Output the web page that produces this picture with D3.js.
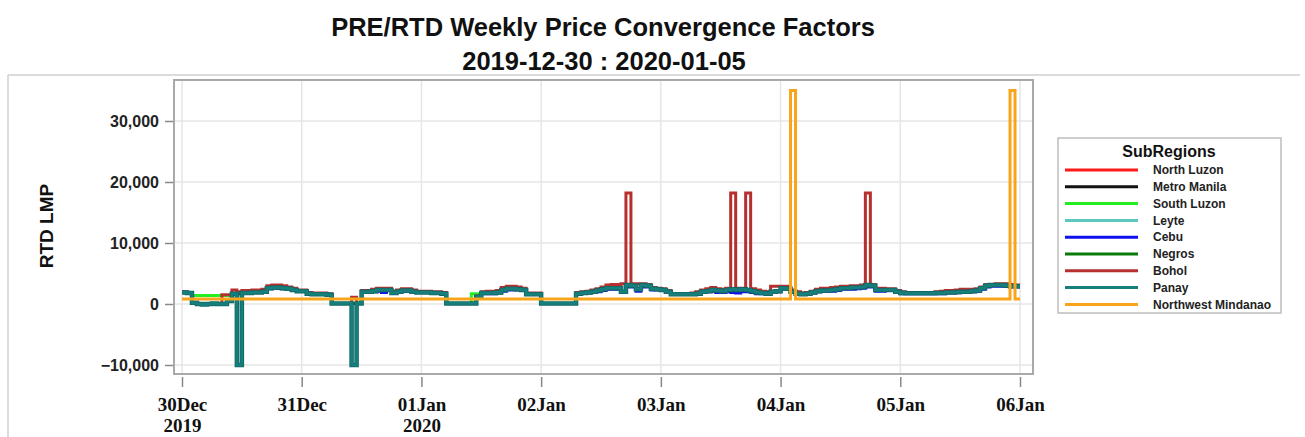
<!DOCTYPE html>
<html>
<head>
<meta charset="utf-8">
<script src="https://cdn.jsdelivr.net/npm/d3@7"></script>
<style>
  body { margin: 0; background: #fff; }
  svg { display: block; }
</style>
</head>
<body>
<svg width="1305" height="437"></svg>
<script>
// hourly RTD LMP values, 30Dec 00:00 .. 05Jan 23:00 (one row per day)
var panay = [
  1900,1800,200,0,-100,0,100,0,0,500,1700,-10000,1800,1800,1900,1900,2000,2600,2700,2700,2600,2500,2300,2100,
  2100,1700,1600,1600,1600,1500,100,100,100,100,-10000,100,2000,2000,2100,2300,2300,2300,1800,2000,2200,2200,2000,1900,
  1900,1900,1800,1800,1700,100,100,100,100,100,100,1200,1800,1800,1800,1900,2300,2500,2500,2400,2300,1600,1600,1600,
  100,100,100,100,100,100,100,1700,1800,1900,2000,2200,2400,2600,2600,2600,2000,3100,3000,2400,3100,3000,2500,2400,
  2300,2000,1600,1600,1600,1600,1600,1700,2000,2100,2300,2200,2100,2300,2400,2300,2400,2300,2100,1900,1800,1700,2000,2100,
  2600,2500,2000,1700,1600,1700,1900,2100,2200,2200,2300,2400,2600,2600,2700,2700,2800,3100,3000,2300,2300,2300,2300,2000,
  1800,1750,1750,1750,1750,1750,1750,1800,1800,1900,1900,1950,2000,2000,2100,2200,2600,3000,3100,3100,3100,3000,2900,2900
];
// North Luzon, Metro Manila, Leyte and Negros sit under Panay in the picture
var mainGrid = [
  1900,1800,200,0,-100,0,100,0,0,500,1700,1800,1800,1800,1900,1900,2000,2600,2700,2700,2600,2500,2300,2100,
  2100,1700,1600,1600,1600,1500,100,100,100,100,100,100,2000,2000,2100,2300,2300,2300,1800,2000,2200,2200,2000,1900,
  1900,1900,1800,1800,1700,100,100,100,100,100,100,1200,1800,1800,1800,1900,2300,2500,2500,2400,2300,1600,1600,1600,
  100,100,100,100,100,100,100,1700,1800,1900,2000,2200,2400,2600,2600,2600,2000,3100,3000,2400,3100,3000,2500,2400,
  2300,2000,1600,1600,1600,1600,1600,1700,2000,2100,2300,2200,2100,2300,2400,2300,2400,2300,2100,1900,1800,1700,2000,2100,
  2600,2500,2000,1700,1600,1700,1900,2100,2200,2200,2300,2400,2600,2600,2700,2700,2800,3100,3000,2300,2300,2300,2300,2000,
  1800,1750,1750,1750,1750,1750,1750,1800,1800,1900,1900,1950,2000,2000,2100,2200,2600,3000,3100,3100,3100,3000,2900,2900
];
var southLuzon = [
  1900,1800,1400,1400,1400,1400,1400,1400,1400,1400,1700,1800,1800,1800,1900,1900,2000,2600,2700,2700,2600,2500,2300,2100,
  2100,1700,1600,1600,1600,1500,100,100,100,100,100,100,2000,2000,2100,2300,2300,2300,1800,2000,2200,2200,2000,1900,
  1900,1900,1800,1800,1700,100,100,100,100,100,1700,1700,1800,1800,1800,1900,2300,2500,2500,2400,2300,1600,1600,1600,
  100,100,100,100,100,100,100,1700,1800,1900,2000,2200,2400,2600,2600,2600,2000,3100,3000,2400,3100,3000,2500,2400,
  2300,2000,1600,1600,1600,1600,1600,1700,2000,2100,2300,2200,2100,2300,2400,2300,2400,2300,2100,1900,1800,1700,2000,2100,
  2600,2500,2000,1700,1600,1700,1900,2100,2200,2200,2300,2400,2600,2600,2700,2700,2800,3100,3000,2300,2300,2300,2300,2000,
  1800,1750,1750,1750,1750,1750,1750,1800,1800,1900,1900,1950,2000,2000,2100,2200,2600,3000,3100,3100,3100,3000,2900,2900
];
var cebu = [
  1900,1800,200,0,-100,0,100,0,0,500,1700,1700,1800,1800,1900,1900,2000,2500,2600,2600,2500,2400,2200,2100,
  2100,1700,1600,1600,1600,1500,100,100,100,100,100,100,2000,2000,2000,2100,1900,2200,1800,2000,2100,2100,2000,1900,
  1900,1900,1800,1800,1700,100,100,100,100,100,100,1200,1700,1700,1700,1800,2100,2300,2300,2300,2200,1600,1600,1600,
  100,100,100,100,100,100,100,1700,1800,1800,1900,2000,2200,2400,2400,2400,1900,2800,2800,2100,2800,2800,2300,2300,
  2200,2000,1600,1600,1600,1600,1600,1700,1900,2000,2100,1900,1900,2000,1900,1800,2000,2000,1900,1700,1700,1600,1900,2000,
  2500,2400,2000,1700,1600,1700,1800,2000,2100,2100,2100,2200,2400,2400,2400,2500,2600,2800,2800,2100,2100,2200,2200,1900,
  1700,1700,1700,1700,1700,1700,1700,1700,1700,1800,1800,1850,1900,1900,2000,2100,2400,2800,2900,2900,2900,2900,2800,2800
];
var bohol = [
  2000,1900,200,0,-100,0,100,0,1500,1500,2300,2000,2200,2200,2300,2300,2400,3000,3100,3100,3000,2800,2600,2300,
  2300,1900,1800,1800,1800,1700,100,100,100,100,1100,100,2200,2200,2400,2600,2600,2600,2100,2300,2500,2500,2300,2100,
  2100,2100,2000,2000,1900,100,100,100,100,100,100,1300,2000,2100,2100,2200,2700,2900,2900,2800,2600,1800,1800,1800,
  100,100,100,100,100,100,100,1900,2000,2100,2300,2500,2800,3100,3200,3200,3300,18200,3300,3300,3300,3200,2700,2600,
  2500,2200,1700,1700,1700,1700,1800,2000,2300,2500,2700,2500,2400,2600,18200,2600,2600,18200,2500,2300,2100,2000,2900,2900,
  2900,2900,2300,2000,1800,1900,2100,2400,2600,2600,2700,2800,2900,2900,3000,3000,3100,18200,3200,2600,2600,2500,2500,2200,
  2000,1900,1900,1900,1900,1900,1900,2000,2100,2200,2200,2300,2400,2400,2400,2500,2800,3200,3200,3300,3300,3300,3200,3100
];
var nwMindanao = [
  800,800,800,800,800,800,800,800,800,800,800,800,800,800,800,800,800,800,800,800,800,800,800,800,
  800,800,800,800,800,800,800,800,800,800,800,800,800,800,800,800,800,800,800,800,800,800,800,800,
  800,800,800,800,800,800,800,800,800,800,800,800,800,800,800,800,800,800,800,800,800,800,800,800,
  800,800,800,800,800,800,800,800,800,800,800,800,800,800,800,800,800,800,800,800,800,800,800,800,
  800,800,800,800,800,800,800,800,800,800,800,800,800,800,800,800,800,800,800,800,800,800,800,800,
  800,800,35000,800,800,800,800,800,800,800,800,800,800,800,800,800,800,800,800,800,800,800,800,800,
  800,800,800,800,800,800,800,800,800,800,800,800,800,800,800,800,800,800,800,800,800,800,35000,800
];

var subRegions = ["North Luzon","Metro Manila","South Luzon","Leyte","Cebu","Negros","Bohol","Panay","Northwest Mindanao"];
var seriesValues = [mainGrid, mainGrid, southLuzon, mainGrid, cebu, mainGrid, bohol, panay, nwMindanao];
var colors = ["#ff1a1a","#111111","#22ee22","#5cc8c0","#1010ee","#0a7a0a","#b5302e","#177f7b","#f9a51b"];

var yTicks = [-10000, 0, 10000, 20000, 30000];
var tickDays = ["2019-12-30","2019-12-31","2020-01-01","2020-01-02","2020-01-03","2020-01-04","2020-01-05","2020-01-06"];
var tickLabels = ["30Dec","31Dec","01Jan","02Jan","03Jan","04Jan","05Jan","06Jan"];
var tickYears = ["2019","","2020","","","","",""];

var svg = d3.select("svg");
var frame = {left: 174, top: 80, right: 1033, bottom: 374};

var parseDay = d3.timeParse("%Y-%m-%d");
var start = parseDay(tickDays[0]);

var x = d3.scaleTime()
    .domain([start, parseDay(tickDays[tickDays.length - 1])])
    .range([182, 1020]);
var y = d3.scaleLinear()
    .domain([-10000, 30000])
    .range([365, 121]);

// screenshot edge lines
svg.append("line").attr("x1", 8).attr("x2", 1300).attr("y1", 75).attr("y2", 75)
    .attr("stroke", "#cfcfcf").attr("stroke-width", 1.5);
svg.append("line").attr("x1", 8).attr("x2", 8).attr("y1", 75).attr("y2", 437)
    .attr("stroke", "#cfcfcf").attr("stroke-width", 1.5);

// titles
svg.append("text").attr("x", 603).attr("y", 36).attr("text-anchor", "middle")
    .attr("font-family", "Liberation Sans, Arial, sans-serif").attr("font-weight", "bold")
    .attr("font-size", 25.5).attr("fill", "#111").text("PRE/RTD Weekly Price Convergence Factors");
svg.append("text").attr("x", 604).attr("y", 70).attr("text-anchor", "middle")
    .attr("font-family", "Liberation Sans, Arial, sans-serif").attr("font-weight", "bold")
    .attr("font-size", 25.5).attr("fill", "#111").text("2019-12-30 : 2020-01-05");

// grid
var grid = svg.append("g").attr("stroke", "#e6e6e6").attr("stroke-width", 1.5);
grid.selectAll(".vg").data(tickDays).enter().append("line")
    .attr("x1", function(d) { return x(parseDay(d)); })
    .attr("x2", function(d) { return x(parseDay(d)); })
    .attr("y1", frame.top).attr("y2", frame.bottom);
grid.selectAll(".hg").data(yTicks).enter().append("line")
    .attr("x1", frame.left).attr("x2", frame.right)
    .attr("y1", function(d) { return y(d); })
    .attr("y2", function(d) { return y(d); });

// series
svg.append("clipPath").attr("id", "plotclip").append("rect")
    .attr("x", frame.left).attr("y", frame.top)
    .attr("width", frame.right - frame.left).attr("height", frame.bottom - frame.top);

var line = d3.line()
    .x(function(d) { return x(d.t); })
    .y(function(d) { return y(d.v); })
    .curve(d3.curveStepAfter);

var series = subRegions.map(function(name, i) {
  var vals = seriesValues[i];
  var pts = vals.map(function(v, h) { return {t: d3.timeHour.offset(start, h), v: v}; });
  pts.push({t: d3.timeHour.offset(start, vals.length), v: vals[vals.length - 1]});
  return {name: name, color: colors[i], points: pts};
});

var plot = svg.append("g").attr("clip-path", "url(#plotclip)");
series.forEach(function(s) {
  if (s.name == "Panay") {
    // darker edge under the teal line, as in the original rendering
    plot.append("path").attr("d", line(s.points)).attr("fill", "none")
        .attr("stroke", "#0f6764").attr("stroke-width", 4.5);
  }
  plot.append("path").attr("d", line(s.points)).attr("fill", "none")
      .attr("stroke", s.color)
      .attr("stroke-width", s.name == "Panay" ? 2.8 : 3);
});

// frame
svg.append("rect").attr("x", frame.left).attr("y", frame.top)
    .attr("width", frame.right - frame.left).attr("height", frame.bottom - frame.top)
    .attr("fill", "none").attr("stroke", "#a9a9a9").attr("stroke-width", 2);

// y axis
var yAxis = svg.append("g")
    .attr("transform", "translate(" + (frame.left - 1) + ",0)")
    .call(d3.axisLeft(y).tickValues(yTicks).tickFormat(d3.format(",")).tickSize(8).tickPadding(6));
yAxis.select(".domain").remove();
yAxis.selectAll(".tick line").attr("stroke", "#888").attr("stroke-width", 1.5);
yAxis.selectAll(".tick text")
    .attr("font-family", "Liberation Sans, Arial, sans-serif").attr("font-weight", "bold")
    .attr("font-size", 16).attr("fill", "#222");

svg.append("text")
    .attr("transform", "translate(53,226) rotate(-90)")
    .attr("text-anchor", "middle")
    .attr("font-family", "Liberation Sans, Arial, sans-serif").attr("font-weight", "bold")
    .attr("font-size", 19).attr("fill", "#111").text("RTD LMP");

// x axis
var xAxis = svg.append("g")
    .attr("transform", "translate(0," + (frame.bottom + 3) + ")")
    .call(d3.axisBottom(x).tickValues(tickDays.map(parseDay)).tickSize(10).tickFormat(""));
xAxis.select(".domain").remove();
xAxis.selectAll(".tick line").attr("stroke", "#888").attr("stroke-width", 1.5);
xAxis.selectAll(".tick").append("text")
    .attr("text-anchor", "middle").attr("y", 34)
    .attr("font-family", "Liberation Serif, Times New Roman, serif").attr("font-weight", "bold")
    .attr("font-size", 19).attr("fill", "#111")
    .text(function(d, i) { return tickLabels[i]; });
xAxis.selectAll(".tick").filter(function(d, i) { return tickYears[i] != ""; }).append("text")
    .attr("text-anchor", "middle").attr("y", 55)
    .attr("font-family", "Liberation Serif, Times New Roman, serif").attr("font-weight", "bold")
    .attr("font-size", 19).attr("fill", "#111")
    .text(function(d) { return tickYears[tickDays.map(parseDay).map(Number).indexOf(+d)]; });

// legend
var lg = svg.append("g").attr("transform", "translate(1058,138)");
lg.append("rect").attr("width", 223).attr("height", 175)
    .attr("fill", "#fff").attr("stroke", "#bdbdbd").attr("stroke-width", 1.5);
lg.append("text").attr("x", 111).attr("y", 19).attr("text-anchor", "middle")
    .attr("font-family", "Liberation Sans, Arial, sans-serif").attr("font-weight", "bold")
    .attr("font-size", 16).attr("fill", "#111").text("SubRegions");
var item = lg.selectAll(".item").data(series).enter().append("g")
    .attr("transform", function(d, i) { return "translate(0," + (32 + i * 16.8) + ")"; });
item.append("line").attr("x1", 7).attr("x2", 80).attr("y1", 0).attr("y2", 0)
    .attr("stroke", function(d) { return d.color; }).attr("stroke-width", 3);
item.append("text").attr("x", 95).attr("y", 0).attr("dy", "0.35em")
    .attr("font-family", "Liberation Sans, Arial, sans-serif").attr("font-weight", "bold")
    .attr("font-size", 12).attr("fill", "#222")
    .text(function(d) { return d.name; });
</script>
</body>
</html>
